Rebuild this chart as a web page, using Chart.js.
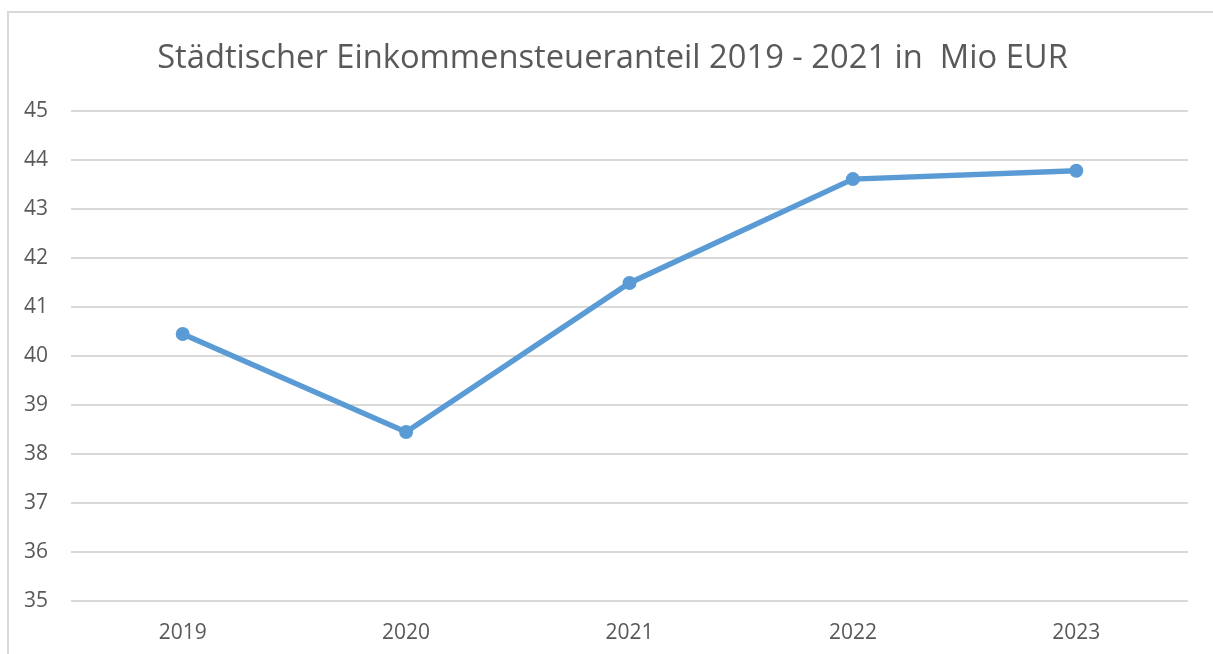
<!DOCTYPE html>
<html>
<head>
<meta charset="utf-8">
<script src="https://cdn.jsdelivr.net/npm/chart.js@4.4.1/dist/chart.umd.min.js"></script>
<style>
html,body{margin:0;padding:0;background:#fff;overflow:hidden;}
#frame{position:absolute;left:7px;top:11px;width:1300px;height:700px;border-left:2px solid #d9d9d9;border-top:2px solid #d9d9d9;box-sizing:border-box;}
#wrap{position:absolute;left:0;top:0;width:1213px;height:654px;}
#title{position:absolute;left:12px;width:1201px;top:36px;height:40px;line-height:40px;text-align:center;white-space:pre;
  font-family:'Open Sans','Liberation Sans',sans-serif;font-size:32.7px;color:#595959;}
</style>
</head>
<body>
<div id="frame"></div>
<div id="wrap"><canvas id="c" width="1213" height="654"></canvas></div>
<div id="title"></div>
<script>
const categories = ["2019", "2020", "2021", "2022", "2023"];
const values = [40.45, 38.45, 41.49, 43.61, 43.78];
const titleText = "Städtischer Einkommensteueranteil 2019 - 2021 in  Mio EUR";
const yMin = 35, yMax = 45, yStep = 1;

document.getElementById('title').textContent = titleText;

const FONT = "'Open Sans', 'Liberation Sans', sans-serif";
new Chart(document.getElementById('c'), {
  type: 'line',
  data: {
    labels: categories,
    datasets: [{
      data: values,
      borderColor: '#5B9BD5',
      backgroundColor: '#5B9BD5',
      borderWidth: 5.5,
      pointRadius: 7,
      pointHoverRadius: 7,
      pointBorderWidth: 0,
      tension: 0
    }]
  },
  options: {
    responsive: false,
    animation: false,
    layout: { padding: { left: 0, right: 25, top: 111, bottom: 0 } },
    plugins: {
      legend: { display: false },
      tooltip: { enabled: false },
      title: { display: false }
    },
    scales: {
      x: {
        offset: true,
        grid: { display: false, drawTicks: false },
        border: { display: false },
        ticks: { color: '#595959', font: { family: FONT, size: 21 }, padding: 19.4, maxRotation: 0 },
        afterFit: s => { s.height = 53; }
      },
      y: {
        min: yMin, max: yMax,
        grid: { color: '#d9d9d9', lineWidth: 2, drawTicks: false },
        border: { display: false },
        ticks: { stepSize: yStep, color: '#595959', font: { family: FONT, size: 21 }, padding: 23 },
        afterFit: s => { s.width = 71; }
      }
    }
  }
});
</script>
</body>
</html>
